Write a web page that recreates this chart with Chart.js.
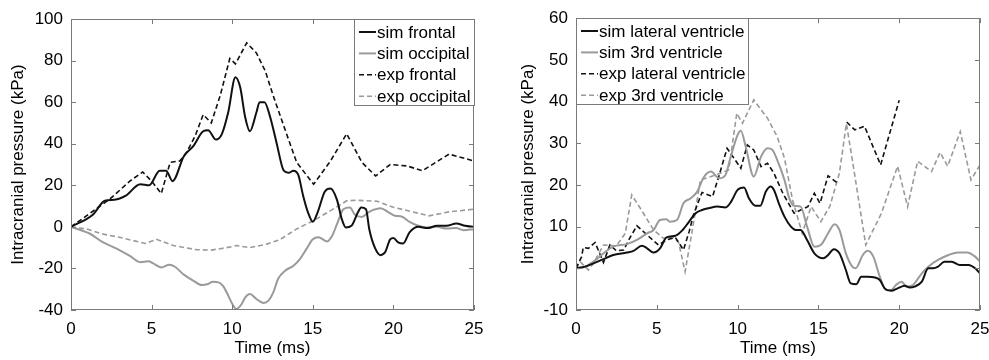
<!DOCTYPE html>
<html>
<head>
<meta charset="utf-8">
<script src="https://cdn.jsdelivr.net/npm/chart.js@4.4.0/dist/chart.umd.min.js"></script>
<style>
  html, body { margin: 0; padding: 0; background: #fff; }
  #wrap { position: relative; width: 989px; height: 360px; overflow: hidden; }
  .pane { position: absolute; top: 0; height: 360px; }
  #leftPane { left: 0; width: 494px; }
  /* wider than the space left, the extra is clipped; keeps the last x label padding from shrinking the plot */
  #rightPane { left: 494px; width: 505px; }
</style>
</head>
<body>
<div id="wrap">
  <div class="pane" id="leftPane"><canvas id="leftChart" width="494" height="360"></canvas></div>
  <div class="pane" id="rightPane"><canvas id="rightChart" width="505" height="360"></canvas></div>
</div>
<script>
// ---------- data: left panel (frontal / occipital) ----------
const simFrontalT = [0,1.37,2.1,2.7,3.4,4.3,4.85,5.5,5.9,6.3,7.0,7.6,8.2,8.5,9.0,9.35,9.75,10.2,10.5,10.8,11.1,11.5,11.7,12.0,12.35,12.75,13.2,13.5,13.8,14.1,14.4,14.7,15.0,15.3,15.75,16.1,16.5,16.8,17.05,17.4,17.8,18.0,18.3,18.5,18.85,19.2,19.5,19.8,20.0,20.3,20.6,21.0,21.55,22.1,22.7,23.3,23.9,24.45,25];
const simFrontalP = [0,6,12.6,13,15,20.5,20,27,27,22,34,39,46,46.5,42,44.5,55,72,67,53,46,55,60,60,53,40.5,27,26,27,25,15,7,2.5,7,17,18.4,13,3.7,-0.3,0.5,7,9.3,8.5,-1,-10,-13.6,-12,-6,-5.4,-7.5,-8,-2.7,0,-0.6,0.5,0.5,1.6,0.5,0];

const simOccipitalT = [0,0.75,1.15,2.0,2.8,3.65,4.3,4.8,5.1,5.6,6.1,6.45,7.0,7.6,8.1,8.5,8.8,9.15,9.45,9.75,10.0,10.25,10.6,10.8,11.1,11.5,11.95,12.25,12.55,12.85,13.3,13.8,14.2,14.6,15.0,15.35,15.9,16.2,16.5,16.9,17.3,17.6,18.05,18.45,18.75,19.2,19.7,20.1,20.5,21.0,21.55,22.1,22.7,23.3,23.9,24.35,25];
const simOccipitalP = [0,-2,-3.2,-7.5,-10.4,-14,-17,-16.6,-17.6,-19.5,-18.2,-19.2,-23,-26,-28,-27.5,-26.4,-26.7,-28.6,-33,-37,-39.5,-37,-34,-32.3,-34.7,-36.6,-35.5,-31.5,-25,-21,-18.7,-15.5,-10.7,-6,-5,-7,-4.3,1.3,8.5,9.3,6,4.8,7,8.2,9,7,5.3,5,2.4,0.5,-0.3,0,-0.8,-0.6,-1.6,-1.1];

const expFrontalT = [0,2.4,3.65,4.45,5.0,5.6,6.15,6.75,7.15,7.7,8.2,8.7,9.25,9.85,10.2,10.9,11.5,12.05,12.55,13.2,14.0,15.05,16.1,17.1,18.05,18.9,19.8,20.85,21.8,23.45,25];
const expFrontalP = [0,13.3,22,26.4,22,16,31,31.7,35.5,43.7,54,50,63,81,78.4,88.5,83.7,75,63,48.5,31,20.5,31.7,44.8,31,24.5,30,29.3,27,35,31.7];

const expOccipitalT = [0,0.95,2.0,3.0,4.6,5.3,6.35,7.8,8.7,9.65,10.3,11.1,12.15,12.95,14.0,15.05,16.1,17.1,17.7,19.0,20.0,21.05,22.2,23.45,25];
const expOccipitalP = [0,-1,-3.5,-5,-8,-6,-9,-11,-11.2,-10,-9,-10,-8.3,-6.2,-1,3,7.8,12.5,12.8,12.3,9.4,7.5,5.3,7.2,8.5];

// ---------- data: right panel (ventricles) ----------
const simLateralT = [0,0.56,1.08,1.7,2.3,3.15,3.56,4.08,4.4,4.8,5.2,5.6,6.15,6.6,7.0,7.4,7.8,8.2,8.75,9.25,9.6,10.0,10.4,10.7,11.1,11.4,11.75,12.05,12.25,12.55,12.9,13.3,13.6,13.9,14.3,14.75,15.3,15.6,15.95,16.3,16.7,17.0,17.35,17.65,18.05,18.5,18.8,19.1,19.5,19.9,20.35,20.65,20.95,21.4,21.8,22.1,22.4,22.8,23.25,23.75,24.3,24.7,25];
const simLateralP = [0,0.4,1.2,2.2,3.2,3.8,4.2,5.4,4.8,3.8,4.8,7.4,7.8,9.2,11.2,13.2,14,14.4,14.8,14.6,16,18.8,19.4,16.8,15,15,18.4,19.6,18.8,15.6,12.4,10,9.2,9.2,6.8,3.6,2.4,3.2,4.6,3.6,-0.4,-3.6,-3.8,-2,-2,-2.2,-2.8,-4.8,-5.4,-4.8,-4.2,-4.6,-4.4,-3.2,0,0,0.4,1.6,1.6,0.8,0.8,0,-1.2];

const sim3rdT = [0,0.45,1.08,1.7,2.3,3.15,3.77,4.4,4.8,5.2,5.6,5.8,6.25,6.65,7.1,7.5,7.9,8.35,8.85,9.25,9.55,10.0,10.2,10.5,11.0,11.45,11.85,12.15,12.45,12.9,13.2,13.5,13.9,14.3,14.75,15.15,15.6,16.0,16.3,16.7,17.1,17.3,17.75,18.05,18.4,18.8,19.2,19.5,19.8,20.15,20.45,20.85,21.4,21.8,22.4,23.05,23.65,24.2,24.7,25];
const sim3rdP = [0,0.2,1.6,3.6,5.2,5.8,6.8,8.4,9.2,11.6,11.8,11.2,11.6,15.6,16.8,18.4,21.8,23.2,21.6,22.4,26.4,32,33,29.2,22,26.8,28.8,28.4,26,21.2,16.8,15,14.8,10,5.2,5.6,8.4,10.6,9.2,3.6,0.4,0,3.2,4.2,2.8,-2,-5.2,-5.2,-4,-3.2,-4.4,-4,-1.2,0.4,2,3.2,3.8,3.8,2.8,1.6];

// null = gap in the recorded trace
const expLateralT = [0,0.35,0.45,0.77,1.18,1.7,2.1,2.5,2.95,3.35,3.77,4.4,5.1,5.6,6.15,6.65,7.0,7.3,7.8,8.45,8.85,9.35,10.2,10.6,11.0,11.45,11.85,12.25,12.8,13.5,13.9,14.35,14.75,15.1,15.6,16.2,16.45,16.75,17.25,17.85,18.85,20.0];
const expLateralP = [0,2.8,5,4.8,6.2,1.4,5.6,4.2,4.4,7.4,10.2,8,5.6,6.8,7.4,4.4,8.8,13.2,18.2,17.2,22.2,28.8,24,29.6,28.4,24.4,25.2,22.8,18,13.2,14,14.8,18,15.6,22.2,20.4,null,35.1,33.2,34.1,24.8,40.3];

const exp3rdT = [0,0.25,0.77,1.08,1.7,2.5,3.05,3.45,3.98,4.8,5.4,6.05,6.35,6.75,7.2,7.7,8.65,9.45,9.95,10.3,11.0,11.85,12.45,12.9,13.4,14.0,14.55,15.15,15.7,16.3,16.73,17.1,17.93,18.9,19.9,20.52,21.14,22.0,22.53,23.0,23.78,24.44,25];
const exp3rdP = [0,1.6,-0.4,1.2,5.6,5.4,8.4,17.6,14.4,9.2,7.2,7.4,6.2,-0.8,9.2,21.2,22.4,23.6,37.2,34.8,40.4,36,31.6,26.4,16.4,8.4,14.8,11.2,14.8,22.8,34.7,26,5.6,13.2,24.5,14.8,25.7,23.2,27.8,24.5,32.8,21.2,24.8];

// ---------- helpers ----------
const FONT = "'Liberation Sans', Arial, sans-serif";
const DARK = "#111111";
const GREY = "#9a9a9a";
const FRAME = "#7a7a7a";

const pts = (ts, ps) => ts.map((t, i) => ({ x: t, y: ps[i] }));

const simSet = (label, ts, ps, color) => ({
  label, data: pts(ts, ps), borderColor: color, borderWidth: 2,
  pointRadius: 0, cubicInterpolationMode: "monotone", spanGaps: false
});
const expSet = (label, ts, ps, color) => ({
  label, data: pts(ts, ps), borderColor: color, borderWidth: 1.6,
  borderDash: [5, 3], pointRadius: 0, tension: 0, spanGaps: false
});

// MATLAB-ish box with inward ticks on all four sides
const boxFrame = {
  id: "boxFrame",
  afterDatasetsDraw(chart) {
    const { ctx, chartArea: a, scales: { x, y } } = chart;
    const len = 5;
    ctx.save();
    ctx.strokeStyle = FRAME;
    ctx.lineWidth = 1;
    ctx.beginPath();
    x.ticks.forEach(t => {
      const px = Math.round(x.getPixelForValue(t.value)) + 0.5;
      ctx.moveTo(px, a.bottom); ctx.lineTo(px, a.bottom - len);
      ctx.moveTo(px, a.top); ctx.lineTo(px, a.top + len);
    });
    y.ticks.forEach(t => {
      const py = Math.round(y.getPixelForValue(t.value)) + 0.5;
      ctx.moveTo(a.left, py); ctx.lineTo(a.left + len, py);
      ctx.moveTo(a.right, py); ctx.lineTo(a.right - len, py);
    });
    ctx.stroke();
    ctx.strokeRect(Math.round(a.left) + 0.5, Math.round(a.top) + 0.5,
                   Math.round(a.width) - 1, Math.round(a.height) - 1);
    ctx.restore();
  }
};

// opaque legend box like MATLAB's
const boxLegend = {
  id: "boxLegend",
  afterDraw(chart, args, opts) {
    const { ctx } = chart;
    const { left, top, width, height } = opts;
    ctx.save();
    ctx.fillStyle = "#fff";
    ctx.fillRect(left, top, width, height);
    ctx.strokeStyle = FRAME;
    ctx.lineWidth = 1;
    ctx.strokeRect(left + 0.5, top + 0.5, width - 1, height - 1);
    ctx.font = "17px " + FONT;
    ctx.textBaseline = "middle";
    ctx.fillStyle = "#000";
    chart.data.datasets.forEach((ds, i) => {
      const yy = top + 13 + i * 21.4;
      ctx.beginPath();
      ctx.strokeStyle = ds.borderColor;
      ctx.lineWidth = ds.borderWidth;
      ctx.setLineDash(ds.borderDash || []);
      ctx.moveTo(left + 5, yy);
      ctx.lineTo(left + 22, yy);
      ctx.stroke();
      ctx.setLineDash([]);
      ctx.fillText(ds.label, left + 23, yy + 1);
    });
    ctx.restore();
  }
};

const makeChart = (canvasId, datasets, yMin, yMax, yStep, pad, yTitlePad, legend) =>
  new Chart(document.getElementById(canvasId), {
    type: "line",
    data: { datasets },
    options: {
      responsive: false,
      animation: false,
      layout: { padding: { left: 0, top: pad.top, right: pad.right, bottom: 0 } },
      plugins: { legend: { display: false }, tooltip: { enabled: false }, boxLegend: legend },
      scales: {
        x: {
          type: "linear", min: 0, max: 25,
          grid: { display: false, drawTicks: false },
          border: { display: false },
          ticks: { stepSize: 5, color: "#000", padding: 9, font: { family: FONT, size: 17 } },
          title: { display: true, text: "Time (ms)", color: "#000", padding: { top: 0, bottom: 1 }, font: { family: FONT, size: 17 } },
          afterFit: s => { s.height = 50; }
        },
        y: {
          min: yMin, max: yMax,
          grid: { display: false, drawTicks: false },
          border: { display: false },
          ticks: { stepSize: yStep, color: "#000", padding: 8, font: { family: FONT, size: 17 } },
          title: { display: true, text: "Intracranial pressure (kPa)", color: "#000", padding: { top: yTitlePad, bottom: 0 }, font: { family: FONT, size: 17 } },
          afterFit: s => { s.width = pad.axis; }
        }
      }
    },
    plugins: [boxFrame, boxLegend]
  });

// ---------- left: frontal / occipital ----------
makeChart("leftChart", [
  simSet("sim frontal", simFrontalT, simFrontalP, DARK),
  simSet("sim occipital", simOccipitalT, simOccipitalP, GREY),
  expSet("exp frontal", expFrontalT, expFrontalP, DARK),
  expSet("exp occipital", expOccipitalT, expOccipitalP, GREY)
], -40, 100, 20, { top: 19, right: 20, axis: 71 }, 8,
  { left: 354, top: 19, width: 121, height: 87 });

// ---------- right: ventricles ----------
makeChart("rightChart", [
  simSet("sim lateral ventricle", simLateralT, simLateralP, DARK),
  simSet("sim 3rd ventricle", sim3rdT, sim3rdP, GREY),
  expSet("exp lateral ventricle", expLateralT, expLateralP, DARK),
  expSet("exp 3rd ventricle", exp3rdT, exp3rdP, GREY)
], -10, 60, 10, { top: 18, right: 19, axis: 82 }, 24,
  { left: 82, top: 18, width: 173, height: 87 });
</script>
</body>
</html>
